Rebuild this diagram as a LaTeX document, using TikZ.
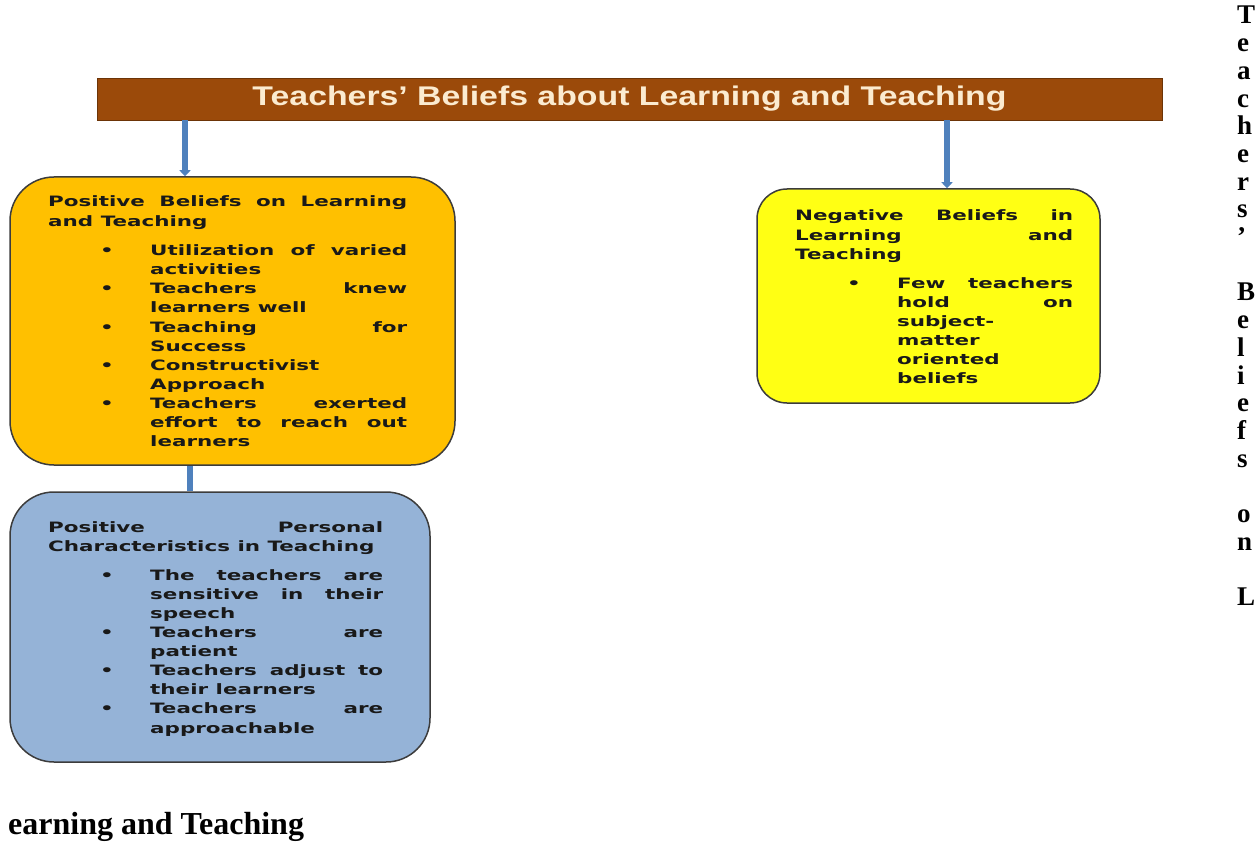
\documentclass[tikz,border=0pt]{standalone}
\usepackage{fontspec}
\usetikzlibrary{arrows.meta}
\newfontfamily\bxfont[FakeStretch=1.5]{DejaVu Sans}
\newfontfamily\ttlfont{Liberation Sans}
\newfontfamily\capfont{Liberation Serif}
\definecolor{titlebrown}{RGB}{155,74,10}
\definecolor{titletext}{RGB}{251,235,208}
\definecolor{orangefill}{RGB}{255,192,0}
\definecolor{bluefill}{RGB}{149,179,215}
\definecolor{yellowfill}{RGB}{255,255,20}
\definecolor{boxline}{RGB}{60,60,60}
\definecolor{arrowblue}{RGB}{79,129,189}
% line helpers
\newcommand\hj[2]{\hbox to #1{#2}}
\newcommand\hl[2]{\hbox to #1{#2\hfil}}
\newcommand\bj[2]{\hbox{\hskip52pt\rlap{\textbullet}\hskip50pt\hbox to #1{#2}}}
\newcommand\bb[2]{\hbox{\hskip52pt\rlap{\textbullet}\hskip50pt\hbox to #1{#2\hfil}}}
\newcommand\nj[2]{\hbox{\hskip102pt\hbox to #1{#2}}}
\newcommand\nl[2]{\hbox{\hskip102pt\hbox to #1{#2\hfil}}}
\tikzset{
  titlebar/.style={fill=titlebrown, draw=titlebrown!70!black, line width=0.6pt, inner sep=0pt},
  roundbox/.style={draw=boxline, line width=1.5pt, inner sep=0pt},
  boxtext/.style={anchor=base west, inner sep=0pt, font=\bxfont\bfseries\fontsize{14.3}{19.1}\selectfont, text=black!90},
  downarrow/.style={draw=arrowblue, line width=5.5pt, -{Triangle[width=11pt,length=6pt]}},
  joinline/.style={draw=arrowblue, line width=5.5pt},
  captext/.style={inner sep=0pt, font=\capfont\bfseries\fontsize{27}{27.7}\selectfont}
}
\begin{document}
\begin{tikzpicture}[x=1pt,y=-1pt]
\useasboundingbox (0,0) rectangle (1255,850);
\fill[white] (0,0) rectangle (1255,850);

% title bar
\node[titlebar, minimum width=1065pt, minimum height=42pt] (title) at (629.5,99)
  {\color{titletext}\ttlfont\bfseries\fontsize{27}{29}\selectfont\resizebox{754pt}{\height}{Teachers’ Beliefs about Learning and Teaching}};

% boxes
\node[roundbox, fill=orangefill, rounded corners=44pt, minimum width=445pt, minimum height=288pt] (pos) at (232.5,321) {};
\node[roundbox, fill=bluefill, rounded corners=44pt, minimum width=420pt, minimum height=270pt] (pers) at (220,627) {};
\node[roundbox, fill=yellowfill, rounded corners=30pt, minimum width=343pt, minimum height=214pt] (neg) at (928.5,296) {};

% connectors
\coordinate (la) at (185,0);
\coordinate (ra) at (947,0);
\coordinate (ja) at (190,0);
\draw[downarrow] (title.south -| la) -- (pos.north -| la);
\draw[downarrow] (title.south -| ra) -- (neg.north -| ra);
\draw[joinline] (pos.south -| ja) -- (pers.north -| ja);

% texts
\node[boxtext] (postext) at (48,207) {\vtop{\baselineskip=19.1pt\lineskiplimit=-20pt
  \hj{359pt}{Positive Beliefs on Learning}
  \hl{359pt}{and Teaching}
  \vskip10.5pt
  \bj{257pt}{Utilization of varied}
  \nl{257pt}{activities}
  \bj{257pt}{Teachers knew}
  \nl{257pt}{learners well}
  \bj{257pt}{Teaching for}
  \nl{257pt}{Success}
  \bb{257pt}{Constructivist}
  \nl{257pt}{Approach}
  \bj{257pt}{Teachers exerted}
  \nj{257pt}{effort to reach out}
  \nl{257pt}{learners}}};

\node[boxtext] (perstext) at (48,532) {\vtop{\baselineskip=19.1pt\lineskiplimit=-20pt
  \hj{335pt}{Positive Personal}
  \hl{335pt}{Characteristics in Teaching}
  \vskip10pt
  \bj{233pt}{The teachers are}
  \nj{233pt}{sensitive in their}
  \nl{233pt}{speech}
  \bj{233pt}{Teachers are}
  \nl{233pt}{patient}
  \bj{233pt}{Teachers adjust to}
  \nl{233pt}{their learners}
  \bj{233pt}{Teachers are}
  \nl{233pt}{approachable}}};

\node[boxtext] (negtext) at (795,221) {\vtop{\baselineskip=19.1pt\lineskiplimit=-20pt
  \hj{278pt}{Negative Beliefs in}
  \hj{278pt}{Learning and}
  \hl{278pt}{Teaching}
  \vskip10pt
  \bj{176pt}{Few teachers}
  \nj{176pt}{hold on}
  \nl{176pt}{subject-}
  \nl{176pt}{matter}
  \nl{176pt}{oriented}
  \nl{176pt}{beliefs}}};

% wrapped caption text
\node[captext, anchor=base west] (capcol) at (1237,24) {\vtop{\baselineskip=27.7pt\lineskiplimit=-30pt
  \hbox{T}\hbox{e}\hbox{a}\hbox{c}\hbox{h}\hbox{e}\hbox{r}\hbox{s}\hbox{’}\hbox{}
  \hbox{B}\hbox{e}\hbox{l}\hbox{i}\hbox{e}\hbox{f}\hbox{s}\hbox{}
  \hbox{o}\hbox{n}\hbox{}\hbox{L}}};
\node[captext, anchor=base west, font=\capfont\bfseries\fontsize{32}{34}\selectfont] (capline) at (8,834) {earning and Teaching};
\end{tikzpicture}
\end{document}
